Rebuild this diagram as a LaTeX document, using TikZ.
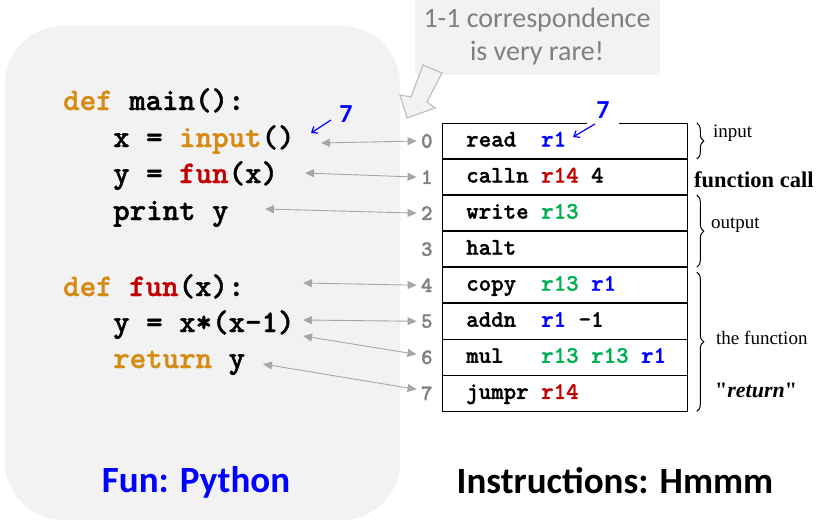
\documentclass[tikz,border=0pt]{standalone}
\usepackage{fontspec}
\setmainfont{Liberation Serif}
\newfontfamily\codefont{lmmonolt10-bold.otf}[BoldFont=lmmonolt10-bold.otf, BoldFeatures={FakeBold=1.3}]
\newfontfamily\califont{Carlito}
\usetikzlibrary{arrows.meta}
\usetikzlibrary{positioning}
\usetikzlibrary{decorations.pathreplacing}

\definecolor{kwOrange}{RGB}{214,140,20}
\definecolor{fnRed}{RGB}{192,0,0}
\definecolor{regGreen}{RGB}{0,176,80}
\definecolor{regBlue}{RGB}{0,0,255}
\definecolor{idxGray}{RGB}{128,128,128}
\definecolor{arrGray}{RGB}{166,166,166}
\definecolor{boxGray}{RGB}{242,242,242}
\definecolor{noteGray}{RGB}{191,191,191}

\newcommand{\kw}[1]{\textcolor{kwOrange}{#1}}
\newcommand{\fn}[1]{\textcolor{fnRed}{#1}}
\newcommand{\rg}[1]{\textcolor{regGreen}{#1}}
\newcommand{\rb}[1]{\textcolor{regBlue}{#1}}

\tikzset{
	codeline/.style={anchor=west, inner sep=0pt, text height=20pt, text depth=6pt,
		font=\codefont\bfseries\fontsize{31.4}{34}\selectfont},
	instr/.style={draw, line width=0.8pt, minimum width=245pt, minimum height=35.25pt,
		inner sep=0pt},
	optext/.style={anchor=west, inner sep=0pt, text height=15pt, text depth=4pt,
		font=\codefont\bfseries\fontsize{23.8}{26}\selectfont},
	idx/.style={text=idxGray, minimum width=20pt, inner sep=0pt,
		font=\codefont\bfseries\fontsize{22}{24}\selectfont},
	link/.style={arrGray, line width=0.9pt,
		{Triangle[width=8pt,length=9pt]}-{Triangle[width=8pt,length=9pt]}},
	seven/.style={text=regBlue, font=\califont\bfseries\fontsize{26}{28}\selectfont},
	pointer/.style={regBlue, line width=1.2pt, -{Straight Barb[length=5pt,width=8pt]}},
	brace/.style={decorate, decoration={brace, amplitude=7pt}, line width=1pt},
	side/.style={anchor=west, inner sep=0pt, font=\fontsize{19}{22}\selectfont},
	title/.style={font=\califont\bfseries\fontsize{37}{40}\selectfont},
}

\begin{document}
\begin{tikzpicture}[x=1pt,y=-1pt]
	\useasboundingbox (0,0) rectangle (825,522);
	% background of the python side
	\fill[boxGray, rounded corners=58pt] (5,26) rectangle (400,520);

	% python code
	\node[codeline] (p0) at (63,103) {\kw{def} main():};
	\node[codeline] (p1) at (113,140) {x = \kw{input}()};
	\node[codeline] (p2) at (113,176) {y = \fn{fun}(x)};
	\node[codeline] (p3) at (113,213) {print y};
	\node[codeline] (p4) at (63,289) {\kw{def} \fn{fun}(x):};
	\node[codeline] (p5) at (113,325) {y = x*(x-1)};
	\node[codeline] (p6) at (113,361) {\kw{return} y};

	% hmmm instructions
	\node[instr, anchor=north west] (r0) at (442,123) {};
	\node[instr, below=0pt of r0] (r1) {};
	\node[instr, below=0pt of r1] (r2) {};
	\node[instr, below=0pt of r2] (r3) {};
	\node[instr, below=0pt of r3] (r4) {};
	\node[instr, below=0pt of r4] (r5) {};
	\node[instr, below=0pt of r5] (r6) {};
	\node[instr, below=0pt of r6] (r7) {};

	\node[optext, right=24pt of r0.west] (o0) {read\ \ \rb{r1}};
	\node[optext, right=24pt of r1.west] (o1) {calln \fn{r14} 4};
	\node[optext, right=24pt of r2.west] (o2) {write \rg{r13}};
	\node[optext, right=24pt of r3.west] (o3) {halt};
	\node[optext, right=24pt of r4.west] (o4) {copy\ \ \rg{r13} \rb{r1}};
	\node[optext, right=24pt of r5.west] (o5) {addn\ \ \rb{r1} -1};
	\node[optext, right=24pt of r6.west] (o6) {mul\ \ \ \rg{r13} \rg{r13} \rb{r1}};
	\node[optext, right=24pt of r7.west] (o7) {jumpr \fn{r14}};

	\foreach \i in {0,...,7}
		\node[idx, left=5pt of r\i] (i\i) {\i};

	% where the arrows start
	\coordinate (a0) at (321,143);
	\coordinate (a1) at (305,173);
	\coordinate (a2) at (265,209);
	\coordinate (a4) at (303,283);
	\coordinate (a5) at (303,320);
	\coordinate (a6) at (303,336);
	\coordinate (a7) at (263,364);

	\draw[link] (a0) -- (i0.west);
	\draw[link] (a1) -- (i1.west);
	\draw[link] (a2) -- (i2.west);
	\draw[link] (a4) -- (i4.west);
	\draw[link] (a5) -- (i5.west);
	\draw[link] (a6) -- ([yshift=3pt]i6.west);
	\draw[link] (a7) -- ([yshift=4pt]i7.west);

	% the input value
	\node[seven] (s0) at (346,114) {7};
	\draw[pointer] (331,120) -- (311,133);
	\node[seven, fill=white, inner xsep=9pt, inner ysep=6pt] (s1) at (603,110) {7};
	\draw[pointer] (595,124) -- (573,137);

	% braces and their labels
	\draw[brace] ([xshift=9pt]r0.north east) -- ([xshift=9pt]r0.south east);
	\draw[brace] ([xshift=9pt]r2.north east) -- ([xshift=9pt]r3.south east);
	\draw[brace] ([xshift=9pt,yshift=-5pt]r4.north east) -- ([xshift=9pt]r7.south east);
	\node[side] (l0) at (713,133) {input};
	\node[side, font=\bfseries\fontsize{22.5}{24}\selectfont] (l1) at (694,180) {function call};
	\node[side] (l2) at (711,225) {output};
	\node[side] (l3) at (716,338) {the function};
	\node[side, font=\bfseries\fontsize{22}{24}\selectfont] (l4) at (715,390)
		{\textquotedbl\textit{return}\textquotedbl};

	% the note
	\node[fill=boxGray, minimum width=245pt, minimum height=75pt, align=center,
		text=idxGray, font=\califont\fontsize{28}{33}\selectfont] (note) at (537,37)
		{1-1 correspondence\\is very rare!};
	\filldraw[fill=boxGray, draw=noteGray, line width=1.2pt, line join=miter]
		(423,65) -- (442,73) -- (427,102) -- (435,108) -- (407,118) -- (400,95) -- (411,97) -- cycle;

	% titles
	\node[title, text=regBlue] (t0) at (196,482) {Fun: Python};
	\node[title] (t1) at (615,481) {Instructions: Hmmm};
\end{tikzpicture}
\end{document}
